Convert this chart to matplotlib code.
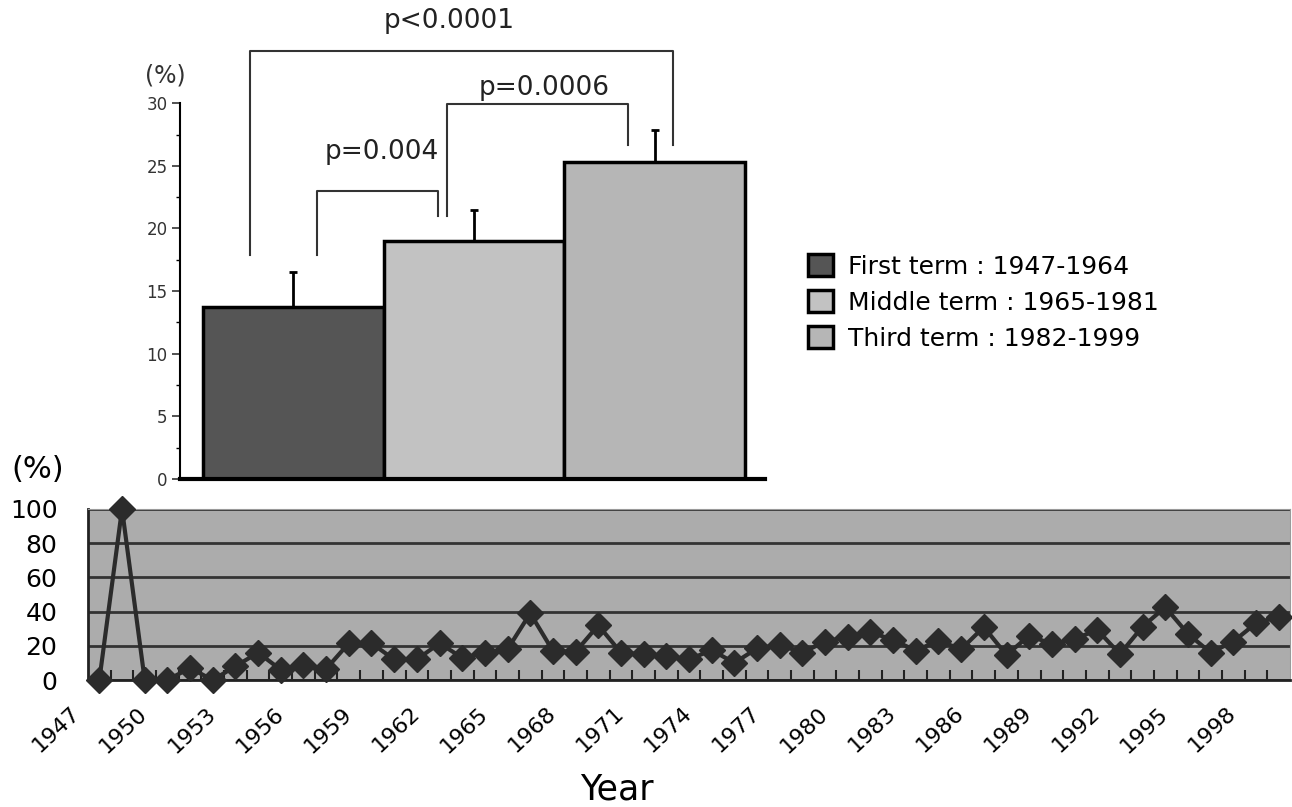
import numpy as np
import matplotlib
matplotlib.use('Agg')
import matplotlib.pyplot as plt
from matplotlib.patches import Patch
from matplotlib.transforms import ScaledTranslation

plt.rcParams['font.family'] = ['DejaVu Sans']

# bar chart data (mean % per term, upper error)
terms = ['First term : 1947-1964', 'Middle term : 1965-1981', 'Third term : 1982-1999']
term_means = [13.7, 19.0, 25.3]
term_err = [2.8, 2.5, 2.6]
term_colors = ['#555555', '#c2c2c2', '#b6b6b6']

# significance brackets: (left x, right x, left leg bottom, right leg bottom, top, text)
brackets = [
    (-0.24, 2.10, 17.9, 26.7, 34.2, 'p<0.0001'),
    (0.13, 0.80, 17.9, 21.0, 23.0, 'p=0.004'),
    (0.85, 1.85, 21.0, 26.7, 29.9, 'p=0.0006'),
]
label_pos = [(0.86, 36.6), (0.49, 26.1), (1.39, 31.2)]

# yearly line data
years = list(range(1947, 2000))
rates = [0, 100, 0, 0, 7, 0, 8, 16, 6, 9, 6.5, 21.5, 21.5, 12, 12, 21.5,
         13, 16, 18, 39, 17, 16.5, 32, 16, 15, 14, 12, 17.5, 10, 18.5, 20.5,
         16, 22.5, 25.4, 28, 23.4, 17.2, 23, 18, 31, 14.6, 26, 21, 24, 29.3,
         15.2, 31.2, 42.6, 27, 16, 22.5, 33.2, 37]

W, H = 1292, 807
fig = plt.figure(figsize=(W / 100, H / 100), dpi=100)

# ---- bar chart ----
ax = fig.add_axes([180 / W, (H - 479) / H, 585 / W, 476 / H])
x = np.arange(len(term_means))
ax.bar(x, term_means, width=1.0, color=term_colors, edgecolor='black', linewidth=2.5, zorder=2)
ax.errorbar(x, term_means, yerr=[[0] * 3, term_err], fmt='none', ecolor='black',
            elinewidth=2, capsize=3, capthick=2, zorder=1)
ax.set_xlim(-0.627, 2.61)
ax.set_ylim(0, 38)
ax.spines['top'].set_visible(False)
ax.spines['right'].set_visible(False)
ax.spines['left'].set_bounds(0, 30)
ax.spines['left'].set_linewidth(1.5)
ax.spines['bottom'].set_linewidth(3)
ax.set_xticks([])
ax.set_yticks(range(0, 31, 5))
ax.set_yticks(np.arange(2.5, 30, 5), minor=True)
ax.tick_params(axis='y', labelsize=12, colors='#333333', length=6, width=1.2, pad=3)
ax.tick_params(axis='y', which='minor', length=3, width=1)
for bl, br, yl, yr, top, txt in brackets:
    ax.plot([bl, bl, br, br], [yl, top, top, yr], color='#333333', lw=1.5, clip_on=False)
for (bl, br, yl, yr, top, txt), (tx, ty) in zip(brackets, label_pos):
    ax.text(tx, ty, txt, ha='center', va='center', fontsize=19, color='#222222')
fig.text(165 / W, 1 - 75 / H, '(%)', ha='center', va='center', fontsize=17, color='#333333')

handles = [Patch(facecolor=c, edgecolor='black', linewidth=2.5) for c in term_colors]
fig.legend(handles, terms, loc='upper left', bbox_to_anchor=(808 / W, 1 - 254 / H),
           frameon=False, fontsize=18, handlelength=1.0, handleheight=1.0,
           handletextpad=0.6, labelspacing=0.45, borderpad=0, borderaxespad=0)

# ---- yearly line chart ----
ax2 = fig.add_axes([88 / W, (H - 680) / H, 1202 / W, 171 / H])
ax2.set_facecolor('#acacac')
idx = np.arange(len(years))
ax2.plot(idx, rates, color='#2b2b2b', lw=3, marker='D', markersize=13, clip_on=False, zorder=3)
ax2.set_xlim(-0.5, len(years) - 0.5)
ax2.set_ylim(0, 100)
ax2.set_yticks(range(0, 101, 20))
ax2.yaxis.grid(True, color='#333333', lw=2)
ax2.set_axisbelow(True)
ax2.tick_params(axis='y', length=0, labelsize=18, pad=22)
ax2.set_xticks(idx[::3])
ax2.set_xticklabels([str(y) for y in years[::3]], rotation=43, ha='right',
                    va='center', rotation_mode='anchor', fontsize=16)
ax2.tick_params(axis='x', which='major', length=0, pad=22)
# labels sit a bit left of their ticks in the original
shift = ScaledTranslation(-23 / 100, 0, fig.dpi_scale_trans)
for lab in ax2.get_xticklabels():
    lab.set_transform(lab.get_transform() + shift)
ax2.set_xticks(idx[:-1] + 0.5, minor=True)
ax2.tick_params(axis='x', which='minor', direction='in', length=7, width=1.5, color='#222222')
for s in ['top', 'right']:
    ax2.spines[s].set_color('#9a9a9a')
for s in ['left', 'bottom']:
    ax2.spines[s].set_color('#222222')
    ax2.spines[s].set_linewidth(2)
fig.text(38 / W, 1 - 470 / H, '(%)', ha='center', va='center', fontsize=22)
fig.text(617 / W, 1 - 800 / H, 'Year', ha='center', va='baseline', fontsize=25)

fig.savefig('out.png', dpi=100)
